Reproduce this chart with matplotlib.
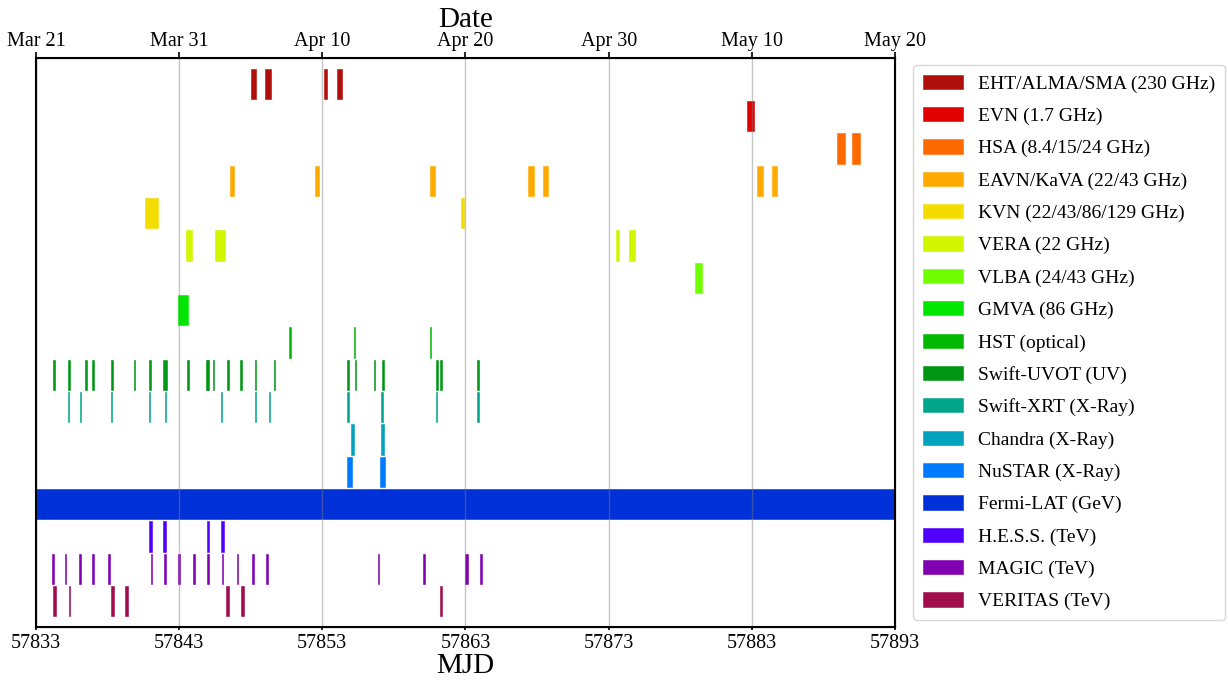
import matplotlib
matplotlib.use("Agg")
import matplotlib.pyplot as plt

plt.rcParams['font.family'] = ['Liberation Serif', 'DejaVu Serif']

# instrument names, top row first
labels = ["EHT/ALMA/SMA (230 GHz)", "EVN (1.7 GHz)", "HSA (8.4/15/24 GHz)",
          "EAVN/KaVA (22/43 GHz)", "KVN (22/43/86/129 GHz)", "VERA (22 GHz)",
          "VLBA (24/43 GHz)", "GMVA (86 GHz)", "HST (optical)",
          "Swift-UVOT (UV)", "Swift-XRT (X-Ray)", "Chandra (X-Ray)",
          "NuSTAR (X-Ray)", "Fermi-LAT (GeV)", "H.E.S.S. (TeV)",
          "MAGIC (TeV)", "VERITAS (TeV)"]
colors = ["#b00e0a", "#e10000", "#ff6a00", "#ffaa00", "#f3dc00", "#d2f500",
          "#70ff00", "#00e600", "#00b800", "#009614", "#00a58c", "#00a2be",
          "#007aff", "#0030d8", "#5000ff", "#8000b2", "#a00c4c"]

# observation start (MJD) and duration (days)
eht_start = [57848.0, 57849.0, 57853.1, 57854.0]
eht_dur = [0.4, 0.4, 0.25, 0.37]
evn_start = [57882.66]
evn_dur = [0.52]
hsa_start = [57888.95, 57889.97]
hsa_dur = [0.58, 0.58]
eavn_start = [57846.55, 57852.5, 57860.5, 57867.4, 57868.4, 57883.38, 57884.38]
eavn_dur = [0.28, 0.3, 0.35, 0.37, 0.37, 0.4, 0.38]
kvn_start = [57840.6, 57862.7]
kvn_dur = [0.93, 0.17]
vera_start = [57843.48, 57845.52, 57873.49, 57874.42]
vera_dur = [0.4, 0.68, 0.23, 0.4]
vlba_start = [57879.03]
vlba_dur = [0.49]
gmva_start = [57842.92]
gmva_dur = [0.68]
hst_start = [57850.7, 57855.2, 57860.52]
hst_dur = [0.12, 0.1, 0.1]
uvot_start = [57834.22, 57835.22, 57836.45, 57836.94, 57838.23, 57839.85,
              57840.88, 57841.9, 57842.04, 57843.54, 57844.86, 57844.97,
              57845.35, 57846.35, 57847.26, 57848.29, 57849.61, 57854.73,
              57855.27, 57856.6, 57857.18, 57860.93, 57861.23, 57863.83]
uvot_dur = [0.12, 0.14, 0.1, 0.14, 0.14, 0.1, 0.12, 0.1, 0.12, 0.14, 0.14,
            0.12, 0.1, 0.14, 0.1, 0.1, 0.12, 0.12, 0.1, 0.1, 0.12, 0.12,
            0.1, 0.1]
xrt_start = [57835.23, 57836.05, 57838.24, 57840.89, 57842.01, 57845.92,
             57848.3, 57849.28, 57854.74, 57857.12, 57860.94, 57863.84]
xrt_dur = [0.1, 0.1, 0.1, 0.1, 0.1, 0.08, 0.08, 0.1, 0.1, 0.1, 0.1, 0.1]
chandra_start = [57855.02, 57857.1]
chandra_dur = [0.21, 0.23]
nustar_start = [57854.7, 57857.05]
nustar_dur = [0.37, 0.35]
fermi_start = [57833.0]
fermi_dur = [60.0]
hess_start = [57840.92, 57841.9, 57844.92, 57845.92]
hess_dur = [0.18, 0.18, 0.18, 0.18]
magic_start = [57834.09, 57835.0, 57836.0, 57836.93, 57838.05, 57841.01,
               57841.96, 57842.94, 57843.99, 57844.97, 57845.97, 57847.02,
               57848.06, 57849.07, 57856.89, 57860.01, 57862.99, 57863.99]
magic_dur = [0.14, 0.12, 0.14, 0.12, 0.12, 0.12, 0.15, 0.14, 0.12, 0.12,
             0.12, 0.12, 0.14, 0.15, 0.08, 0.15, 0.17, 0.17]
veritas_start = [57834.21, 57835.28, 57838.24, 57839.24, 57846.25, 57847.34, 57861.2]
veritas_dur = [0.2, 0.1, 0.21, 0.21, 0.21, 0.19, 0.16]

starts = [eht_start, evn_start, hsa_start, eavn_start, kvn_start, vera_start,
          vlba_start, gmva_start, hst_start, uvot_start, xrt_start,
          chandra_start, nustar_start, fermi_start, hess_start, magic_start,
          veritas_start]
durs = [eht_dur, evn_dur, hsa_dur, eavn_dur, kvn_dur, vera_dur, vlba_dur,
        gmva_dur, hst_dur, uvot_dur, xrt_dur, chandra_dur, nustar_dur,
        fermi_dur, hess_dur, magic_dur, veritas_dur]

mjd_ticks = [57833, 57843, 57853, 57863, 57873, 57883, 57893]
date_ticks = ["Mar 21", "Mar 31", "Apr 10", "Apr 20", "Apr 30", "May 10", "May 20"]

fig = plt.figure(figsize=(12.28, 6.83), dpi=100)
ax = fig.add_axes([0.0293, 0.082, 0.6995, 0.833])

n = len(labels)
for i in range(n):
    y = n - 1 - i
    ax.broken_barh(list(zip(starts[i], durs[i])), (y - 0.47, 0.94),
                   facecolors=colors[i], edgecolors=colors[i],
                   linewidth=0.4, label=labels[i])

ax.set_xlim(57833, 57893)
ax.set_ylim(-0.8, n - 1 + 0.8)
ax.set_yticks([])
ax.set_xticks(mjd_ticks)
ax.tick_params(axis='x', labelsize=14.5, length=2, width=1.2, pad=3)
ax.grid(axis='x', color='gray', alpha=0.45, linewidth=1)
ax.set_xlabel("MJD", fontsize=21, labelpad=0)
for sp in ax.spines.values():
    sp.set_linewidth(1.5)

top = ax.twiny()
top.set_xlim(ax.get_xlim())
top.set_xticks(mjd_ticks)
top.set_xticklabels(date_ticks)
top.tick_params(axis='x', labelsize=14.5, length=4, width=1.2, pad=1)
top.set_xlabel("Date", fontsize=21, labelpad=3.5)

ax.legend(loc='center left', bbox_to_anchor=(1.021, 0.5), fontsize=14,
          handlelength=2.05, handleheight=0.75, labelspacing=0.74,
          borderpad=0.5, handletextpad=0.8, borderaxespad=0)

fig.savefig("out.png", dpi=100)
